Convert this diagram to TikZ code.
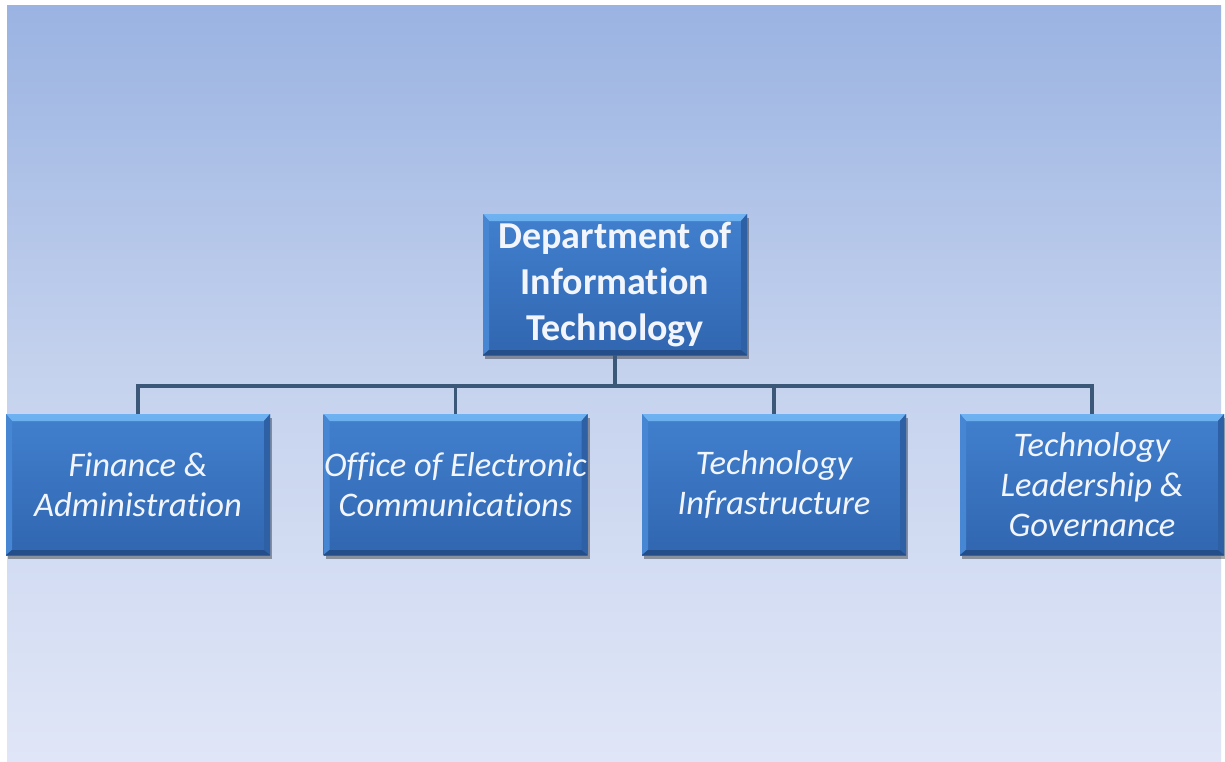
\documentclass[tikz,border=0pt]{standalone}
\usepackage{fontspec}
\setmainfont{Carlito}[Ligatures=NoCommon]
\usetikzlibrary{shadows}
\definecolor{bgtop}{HTML}{9AB3E2}
\definecolor{bgmid}{HTML}{C6D3EE}
\definecolor{bgbot}{HTML}{E0E6F7}
\definecolor{boxtop}{HTML}{4180CE}
\definecolor{boxbot}{HTML}{3166B0}
\definecolor{bevlight}{HTML}{6EB2F2}
\definecolor{bevleft}{HTML}{4686D2}
\definecolor{bevright}{HTML}{2E60A6}
\definecolor{bevdark}{HTML}{234E8A}
\definecolor{linec}{HTML}{3B5878}
\definecolor{txt}{HTML}{F2F6FC}
\begin{document}
\begin{tikzpicture}[x=1pt,y=-1pt,
  orgbox/.style={rectangle, minimum width=264pt, minimum height=141pt, inner sep=0pt,
    text=txt, align=center,
    top color=boxtop, bottom color=boxbot,
    drop shadow={shadow xshift=2pt, shadow yshift=-4pt, opacity=0.35, fill=black},
    path picture={
      \def\pb{path picture bounding box}
      \shade[top color=bevlight, bottom color=boxtop] (\pb.north west) -- (\pb.north east) -- ([shift={(-6pt,-7pt)}]\pb.north east) -- ([shift={(6pt,-7pt)}]\pb.north west) -- cycle;
      \fill[bevleft] (\pb.north west) -- ([shift={(6pt,-7pt)}]\pb.north west) -- ([shift={(6pt,5pt)}]\pb.south west) -- (\pb.south west) -- cycle;
      \fill[bevright] (\pb.north east) -- ([shift={(-6pt,-7pt)}]\pb.north east) -- ([shift={(-6pt,5pt)}]\pb.south east) -- (\pb.south east) -- cycle;
      \fill[bevdark] (\pb.south west) -- ([shift={(6pt,5pt)}]\pb.south west) -- ([shift={(-6pt,5pt)}]\pb.south east) -- (\pb.south east) -- cycle;
    }},
  headfont/.style={font=\fontsize{38}{46}\selectfont\bfseries},
  subfont/.style={font=\fontsize{34.5}{40}\selectfont\itshape},
  conn/.style={draw=linec, line width=3.5pt}
]
\useasboundingbox (0,0) rectangle (1225,761);
\fill[white] (0,0) rectangle (1225,761);
\shade[top color=bgtop, bottom color=bgbot, middle color=bgmid] (7,5) rectangle (1221,761);

\node[orgbox, headfont] (dit) at (615,284.5) {Department of\\Information\\Technology};
\node[orgbox, subfont] (fa) at (138,484.5) {Finance \&\\Administration};
\node[orgbox, subfont] (oec) at (455.5,484.5) {Office of Electronic\\Communications};
\node[orgbox, subfont] (ti) at (774,484.5) {Technology\\Infrastructure};
\node[orgbox, subfont] (tlg) at (1092,484.5) {Technology\\Leadership \&\\Governance};

\coordinate (bus) at (615,386);
\draw[conn] (dit.south) -- (bus);
\draw[conn] (fa.north) -- (fa.north |- bus) -- (tlg.north |- bus) -- (tlg.north);
\draw[conn] (oec.north) -- (oec.north |- bus);
\draw[conn] (ti.north) -- (ti.north |- bus);
\end{tikzpicture}
\end{document}
